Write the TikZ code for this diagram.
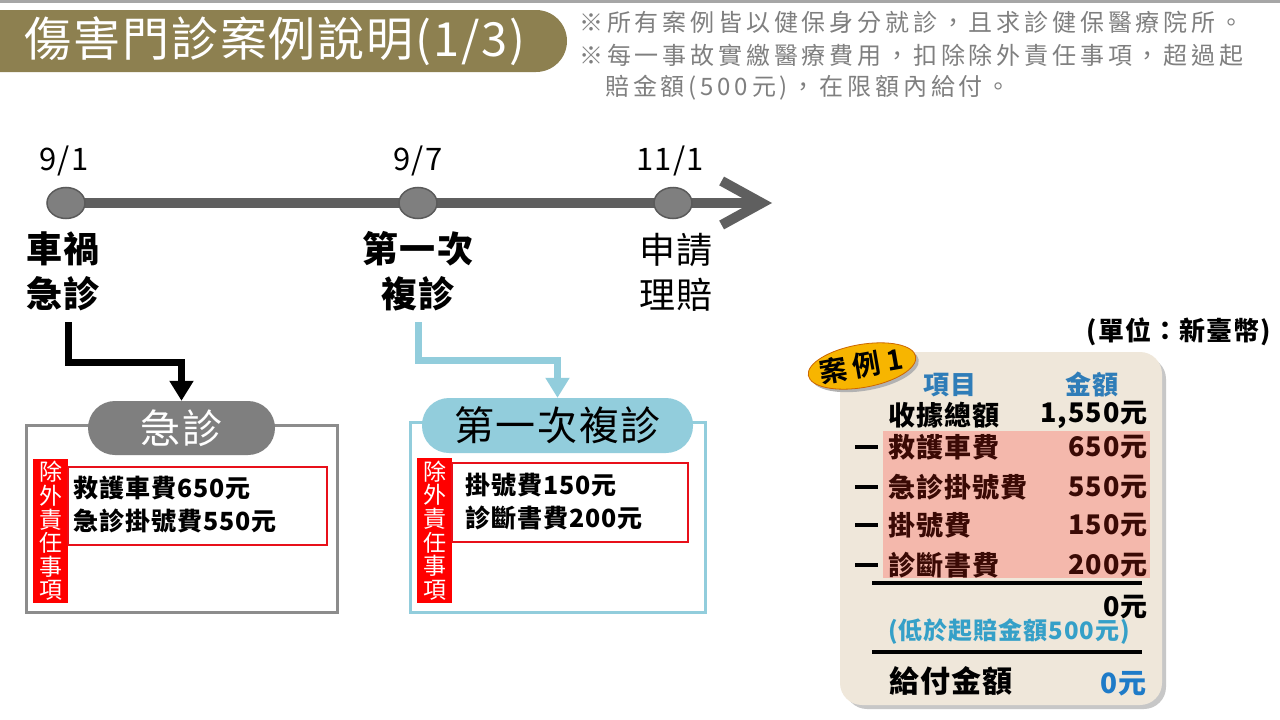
\documentclass[tikz,border=0pt]{standalone}
\usepackage{fontspec}
\setmainfont{Noto Sans CJK TC}[LetterSpace=4]
\newfontfamily\notefont{Noto Sans CJK TC}[LetterSpace=16]
\newfontfamily\badgefont{Noto Sans CJK TC Bold}[LetterSpace=22]
\usetikzlibrary{arrows.meta,shapes.geometric}
\definecolor{olive}{HTML}{8D8050}
\definecolor{topband}{HTML}{A6A6A6}
\definecolor{notegray}{HTML}{7F7F7F}
\definecolor{tlgray}{HTML}{5F5F5F}
\definecolor{dotgray}{HTML}{7F7F7F}
\definecolor{dotedge}{HTML}{5A5A5A}
\definecolor{lblue}{HTML}{92CDDC}
\definecolor{boxgray}{HTML}{8C8C8C}
\definecolor{pillgray}{HTML}{7F7F7F}
\definecolor{exred}{HTML}{FF0000}
\definecolor{rectred}{HTML}{E8101A}
\definecolor{beige}{HTML}{EFE7DA}
\definecolor{pinkband}{HTML}{F4B8AC}
\definecolor{headblue}{HTML}{2F7DB8}
\definecolor{cyanblue}{HTML}{35A0C8}
\definecolor{payblue}{HTML}{1E7BC8}
\definecolor{badge}{HTML}{F7B500}
\definecolor{maroon}{HTML}{3A0A05}
\newcommand\fsz[2]{\fontsize{#1pt}{#2pt}\selectfont}
\tikzset{
  notetext/.style={anchor=west, inner sep=0pt, text=notegray, font=\notefont\fsz{24}{28}},
  datelbl/.style={inner sep=0pt, font=\fsz{31}{34}},
  evlbl/.style={inner sep=0pt, align=center, font=\fsz{36}{45}},
  dot/.style={ellipse, minimum width=38pt, minimum height=31pt, fill=dotgray, draw=dotedge, line width=1.5pt, inner sep=0pt},
  tlline/.style={draw=tlgray, line width=10pt, -{Straight Barb[length=40pt,width=44pt]}},
  conn/.style={line width=7pt, -{Triangle[length=20pt,width=23pt]}},
  boxframe/.style={draw, line width=3pt, inner sep=0pt},
  pill/.style={rounded corners=27pt, inner sep=0pt, font=\fsz{40}{44}},
  exlbl/.style={fill=exred, text=white, inner sep=0pt, align=center, minimum width=35pt, font=\fsz{23}{23.6}},
  exrect/.style={draw=rectred, line width=2.5pt, inner sep=0pt},
  extext/.style={anchor=west, inner sep=0pt, align=left, font=\bfseries\fsz{25}{33}},
  rowl/.style={anchor=west, inner sep=0pt, font=\bfseries\fsz{27}{30}},
  rowr/.style={anchor=east, inner sep=0pt, font=\bfseries\fsz{27}{30}},
  minusbar/.style={fill=black},
  sumrule/.style={line width=4pt}
}
\begin{document}
\begin{tikzpicture}[x=1pt,y=-1pt]
\useasboundingbox (0,0) rectangle (1280,720);
\fill[white] (0,0) rectangle (1280,720);
\fill[topband] (0,0) rectangle (1280,3);
% title banner
\fill[olive, rounded corners=31pt] (-60,10) rectangle (567,72);
\node[text=white, inner sep=0pt, font=\fsz{47}{52}] (title) at (275,41) {傷害門診案例說明(1/3)};
% notes
\node[notetext] (n1) at (579,22) {※所有案例皆以健保身分就診，且求診健保醫療院所。};
\node[notetext] (n2) at (579,55) {※每一事故實繳醫療費用，扣除除外責任事項，超過起};
\node[notetext] (n3) at (605,88) {賠金額(500元)，在限額內給付。};
% timeline
\coordinate (c1) at (66,203);
\coordinate (c2) at (418,203);
\coordinate (c3) at (673,203);
\coordinate (tend) at (772,203);
\draw[tlline] (c1) -- (tend);
\node[dot] (d1) at (c1) {};
\node[dot] (d2) at (c2) {};
\node[dot] (d3) at (c3) {};
\node[datelbl] (t1) at (64,161) {9/1};
\node[datelbl] (t2) at (418,161) {9/7};
\node[datelbl] (t3) at (670,161) {11/1};
\node[evlbl, font=\bfseries\fsz{36}{45}] (e1) at (63,271) {車禍\\急診};
\node[evlbl, font=\bfseries\fsz{36}{45}] (e2) at (418,271) {第一次\\複診};
\node[evlbl] (e3) at (676,272) {申請\\理賠};
% box 1
\node[boxframe, draw=boxgray, minimum width=311pt, minimum height=187pt] (box1) at (181.5,518.5) {};
\node[pill, fill=pillgray, text=white, minimum width=187pt, minimum height=54pt] (pill1) at (181.5,428) {急診};
\node[exlbl, minimum height=144pt] (ex1) at (50.5,531) {除\\外\\責\\任\\事\\項};
\node[exrect, minimum width=259pt, minimum height=78pt] (list1) at (197.5,506) {};
\node[extext] (x1) at (73,504.5) {救護車費650元\\急診掛號費550元};
% box 2
\node[boxframe, draw=lblue, minimum width=295pt, minimum height=190pt] (box2) at (557.5,517) {};
\node[pill, fill=lblue, text=black, minimum width=271pt, minimum height=55pt] (pill2) at (557.5,425.5) {第一次複診};
\node[exlbl, minimum height=145pt] (ex2) at (434.5,530.5) {除\\外\\責\\任\\事\\項};
\node[exrect, minimum width=236pt, minimum height=79pt] (list2) at (570,502.5) {};
\node[extext] (x2) at (465,501.5) {掛號費150元\\診斷書費200元};
% connectors
\coordinate (s1) at (68,322);
\coordinate (s2) at (418,322);
\draw[conn, black] (s1) -- (68,362) -| (pill1.north);
\draw[conn, lblue] (s2) -- (418,360) -| (pill2.north);
% right panel
\node[anchor=east, inner sep=0pt, font=\bfseries\fsz{26}{30}] (unit) at (1271,332) {(單位：新臺幣)};
\fill[black!22, rounded corners=22pt] (845,357) rectangle (1166,709);
\fill[beige, rounded corners=22pt] (840,352) rectangle (1162,705);
\fill[pinkband] (883,431) rectangle (1150,578);
\fill[black!30, rotate around={10:(865,369)}] (865,369) ellipse [x radius=54.5, y radius=21.5];
\fill[badge, draw=orange!80!black, line width=0.8pt, rotate around={10:(862,366)}] (862,366) ellipse [x radius=54.5, y radius=21.5];
\node[inner sep=0pt, rotate=10, font=\badgefont\fsz{28}{30}] (badge) at (861,366) {案例1};
\node[inner sep=0pt, text=headblue, font=\bfseries\fsz{26}{28}] (h1) at (950,385) {項目};
\node[inner sep=0pt, text=headblue, font=\bfseries\fsz{26}{28}] (h2) at (1092,385) {金額};
\node[rowl] (r0l) at (888,415) {收據總額};
\node[rowr] (r0r) at (1148,415) {1,550元};
\node[rowl, text=maroon] (r1l) at (888,447) {救護車費};
\node[rowr, text=maroon] (r1r) at (1148,447) {650元};
\node[rowl, text=maroon] (r2l) at (888,487) {急診掛號費};
\node[rowr, text=maroon] (r2r) at (1148,487) {550元};
\node[rowl, text=maroon] (r3l) at (888,525) {掛號費};
\node[rowr, text=maroon] (r3r) at (1148,525) {150元};
\node[rowl, text=maroon] (r4l) at (888,565) {診斷書費};
\node[rowr, text=maroon] (r4r) at (1148,565) {200元};
\fill[minusbar] (855,445) rectangle (878,449);
\fill[minusbar] (855,485) rectangle (878,489);
\fill[minusbar] (855,523) rectangle (878,527);
\fill[minusbar] (855,563) rectangle (878,567);
\draw[sumrule] (872,583) -- (1142,583);
\node[rowr] (z0) at (1148,607) {0元};
\node[inner sep=0pt, text=cyanblue, font=\bfseries\fsz{24}{28}] (low) at (1009,632) {(低於起賠金額500元)};
\draw[sumrule] (872,652) -- (1142,652);
\node[anchor=west, inner sep=0pt, font=\bfseries\fsz{30}{34}] (pay) at (889,681) {給付金額};
\node[anchor=east, inner sep=0pt, text=payblue, font=\bfseries\fsz{28}{32}] (payv) at (1147,684) {0元};
\end{tikzpicture}
\end{document}
